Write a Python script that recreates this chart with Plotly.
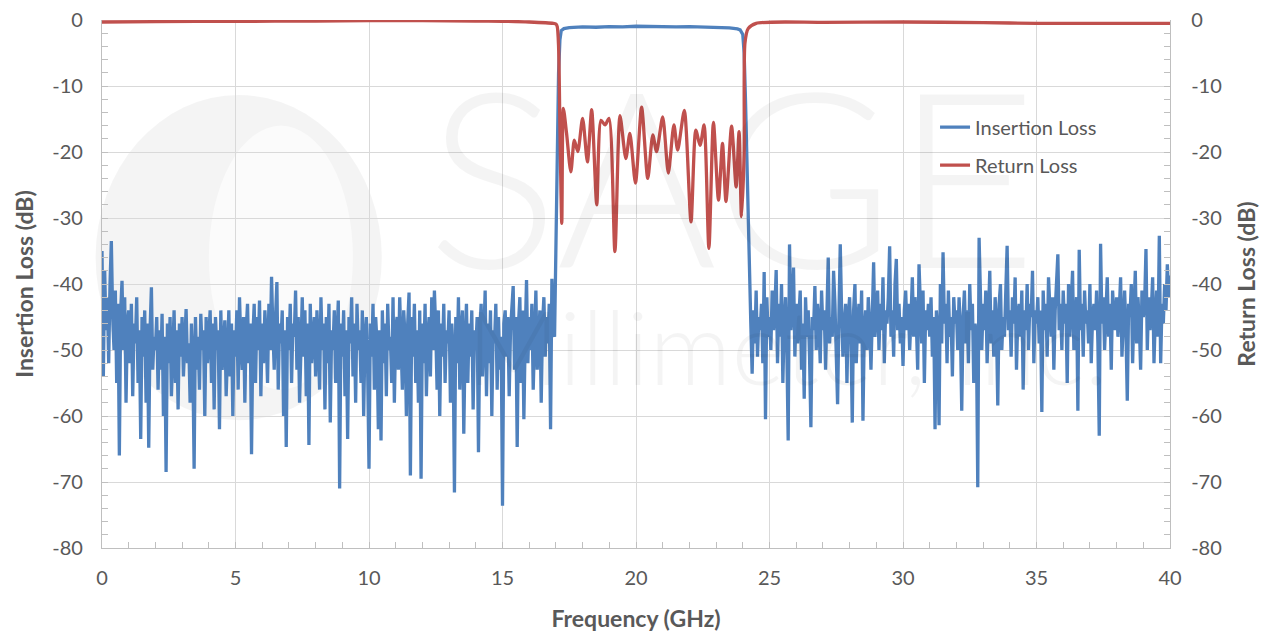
import numpy as np
import plotly.graph_objects as go

# ---------------- data ----------------
# Stop band below the passband: 0.00 .. 16.95 GHz, step 0.05 GHz (insertion loss, dB)
il_low = [
    -35, -54, -38, -47, -42, -52, -40, -33.5, -45, -50, -41, -55, -43, -66, -44, -39.5, -50, -42, -58, -46,
    -44, -52, -43, -57, -46, -49, -42, -55, -47, -63.5, -45, -51, -44, -58, -46, -64.8, -47, -40.5, -53, -48,
    -50, -45, -56, -47, -53, -44.5, -60, -48, -68.5, -46, -52, -45, -57, -49, -44, -55, -47, -59, -46, -51,
    -45, -54, -47, -43.8, -52, -49, -58, -46, -51, -68, -45, -53, -48, -56, -44.5, -50, -47, -60, -45, -52,
    -48, -44, -55, -46, -59, -45, -50, -47, -62, -44, -53, -48, -45.5, -57, -49, -44, -54, -46, -60, -47,
    -51, -44, -56, -42, -49, -53, -45, -58, -47, -43, -52, -46, -65.8, -48, -43, -55, -45, -50, -42.5, -57,
    -46, -52, -44, -48, -55, -43, -50, -38.9, -47, -53, -45, -39.7, -56, -46, -49, -44, -60, -47, -64.7, -45,
    -50, -43, -55, -46, -48, -41, -53, -45, -58, -47, -42, -51, -44, -57, -46, -64.4, -43, -52, -48, -45,
    -54, -44, -49, -56, -42, -50, -46, -59, -45, -52, -43, -61, -47, -50, -44, -55, -48, -42.5, -71, -46,
    -51, -44, -57, -47, -63.5, -45, -49, -42, -54, -46, -58, -43, -50, -47, -55, -44, -60, -48, -45, -53,
    -68, -46, -51, -43, -56, -45, -49, -62, -47, -63.7, -44, -52, -46, -57, -43, -50, -48, -55, -42, -58,
    -47, -45, -53, -42, -49, -56, -44, -48, -60, -46, -41.3, -69, -45, -51, -43, -55, -47, -58, -44, -69.5,
    -46, -52, -43, -57, -48, -45, -54, -42, -50, -41, -47, -56, -44, -60, -46, -51, -43, -55, -47, -49,
    -44, -58, -46, -50, -71.6, -45, -52, -42, -56, -47, -44, -62.7, -49, -43, -55, -46, -51, -44, -59, -47,
    -50, -45, -65.5, -47, -43, -54, -48, -41, -57, -46, -52, -44, -60, -47, -49, -43, -56, -45, -53, -48,
    -73.6, -46, -44, -51, -45, -57, -47, -43, -40.3, -53, -45, -64.7, -46, -42, -55, -44, -60.5, -48, -39.4, -52,
    -45, -50, -43, -56, -46, -41, -53, -47, -44, -58, -46, -42, -51, -45, -49, -43, -62, -39.2, -47, -48,
]

# Passband and skirts (insertion loss, dB)
il_pass_freq = [17.00, 17.05, 17.10, 17.15, 17.20, 17.30, 17.50, 18.00, 18.50, 19.00, 19.50, 20.00,
                20.50, 21.00, 21.50, 22.00, 22.50, 23.00, 23.50, 23.80, 23.90, 24.00, 24.05, 24.10,
                24.15, 24.20, 24.25]
il_pass = [-35, -20, -8, -3, -1.6, -1.3, -1.15, -1.05, -1.1, -1.0, -1.05, -0.95,
           -1.0, -0.95, -1.05, -1.0, -1.05, -1.1, -1.2, -1.35, -1.5, -2.2, -5, -12,
           -22, -32, -42]

# Stop band above the passband: 24.30 .. 40.00 GHz, step 0.05 GHz (insertion loss, dB)
il_high = [
    -46, -53.6, -44, -49, -41, -51, -45, -47, -43, -52, -38.2, -60.5, -42, -48,
    -45, -50, -41, -47, -44, -37.9, -52, -43, -48, -40, -55, -46, -42, -50, -63.7, -34, -47, -44, -37.5, -51,
    -43, -49, -45, -41, -53, -46, -57.4, -42, -48, -44, -51, -61.7, -45, -47, -40.3, -50, -43, -46, -52, -41,
    -47, -44, -53, -42, -36, -49, -45, -48, -38, -43, -50, -58.2, -45, -34, -44, -51, -46, -43, -55, -45,
    -42, -48, -61, -44, -40, -52, -46, -43, -49, -41, -60.7, -47, -44, -50, -42, -46, -53, -44, -36.7, -48,
    -45, -41, -50, -43, -47, -39, -52, -44, -46, -42, -34.3, -48, -44, -51, -40, -36.2, -47, -43, -49, -45,
    -52.4, -44, -41, -47, -43, -50, -45, -39, -48, -42, -46, -53, -37, -45, -49, -41, -55, -44, -47, -43,
    -48, -42, -51, -45, -62, -44, -47, -61.4, -40, -49, -35.2, -46, -43, -52, -41, -48, -45, -54, -42, -46,
    -44, -50, -42, -47, -59.2, -45, -41, -49, -44, -52, -40, -47, -43, -55, -46, -48, -70.8, -33, -44, -50,
    -43, -47, -41, -52, -45, -38, -49, -44, -51, -42, -46, -58.4, -43, -40, -50, -45, -48, -41, -34.2, -47,
    -44, -51, -42, -46, -39, -53, -45, -43, -48, -41, -56, -44, -47, -40, -50, -43, -45, -38, -52, -44,
    -46, -42, -49, -44, -59.4, -41, -47, -43, -51, -39, -45, -48, -42, -53, -44, -40, -35.5, -47, -43, -50,
    -41, -46, -43, -55, -40, -48, -44, -38, -50, -45, -42, -59.2, -34.8, -47, -43, -51, -41, -46, -44, -49,
    -40, -52, -45, -43, -47, -41, -49, -63, -33.9, -46, -42, -50, -44, -39, -48, -43, -53, -41, -45, -47,
    -42, -48, -44, -39, -51, -46, -41, -47, -57.7, -43, -45, -40, -52, -44, -38, -49, -42, -46, -53, -41,
    -45, -43, -34.7, -50, -42, -47, -44, -39, -52, -45, -41, -48, -32.7, -52, -43, -46, -40, -44, -37, -42,
    -38.7,
]

# Return loss (dB)
rl_freq = [0.0, 2.0, 5.0, 8.0, 10.0, 12.0, 14.0, 15.0, 16.0, 16.9, 17.0, 17.05, 17.10, 17.15,
           17.22, 17.28, 17.40, 17.56, 17.69, 17.82, 18.00, 18.18, 18.34, 18.53, 18.69, 18.84,
           18.99, 19.21, 19.40, 19.62, 19.77, 19.98, 20.21, 20.44, 20.63, 20.77, 21.00, 21.21,
           21.42, 21.56, 21.81, 22.06, 22.24, 22.40, 22.55, 22.73, 22.90, 23.09, 23.24, 23.37,
           23.58, 23.75, 23.86, 23.95, 24.05, 24.08, 24.20, 24.50, 27.0, 30.0, 33.0, 35.0, 38.0, 40.0]
rl = [-0.3, -0.25, -0.2, -0.15, -0.1, -0.1, -0.15, -0.2, -0.3, -0.5, -0.6, -1.0, -4, -16,
      -30.8, -13.4, -17.2, -23, -18.2, -19.95, -14.9, -21.5, -13.6, -28, -15.2, -15.9,
      -14.9, -35.1, -14.5, -21, -17.2, -24.7, -13.2, -24, -17.4, -19.95, -14.7, -23.2,
      -15.9, -19.7, -13.7, -30.6, -16.7, -19, -15.9, -34.6, -15.5, -27.3, -18.7, -27.5,
      -16.1, -25.3, -16.9, -29.8, -20.2, -3.5, -1.3, -0.5, -0.35, -0.3, -0.4, -0.5, -0.5, -0.5]

x_ticks = [0, 5, 10, 15, 20, 25, 30, 35, 40]
y_ticks = [0, -10, -20, -30, -40, -50, -60, -70, -80]

# ---------------- build ----------------
f_low = np.round(np.arange(len(il_low)) * 0.05, 2)
f_high = np.round(24.30 + np.arange(len(il_high)) * 0.05, 2)
il_freq = list(f_low) + il_pass_freq + list(f_high)
il_all = il_low + il_pass + il_high

BLUE = "#4F81BD"
RED = "#C0504D"
TXT = "#595959"
FONT = "Lato"

fig = go.Figure()
fig.add_trace(go.Scatter(x=il_freq, y=il_all, mode="lines", name="Insertion Loss",
                         legendgroup="il", line=dict(color=BLUE, width=3.3)))
fig.add_trace(go.Scatter(x=rl_freq, y=rl, mode="lines", name="Return Loss", yaxis="y2",
                         legendgroup="rl",
                         line=dict(color=RED, width=3.3, shape="spline", smoothing=0.7)))

# watermark (faint SAGE logo/text)
WM = "rgba(0,0,0,0.045)"
fig.add_shape(type="circle", xref="paper", yref="paper", x0=-0.006, x1=0.262, y0=0.242, y1=0.858,
              fillcolor=WM, line=dict(width=0), layer="below")
fig.add_shape(type="circle", xref="paper", yref="paper", x0=0.10, x1=0.235, y0=0.30, y1=0.80,
              fillcolor="rgba(255,255,255,0.6)", line=dict(width=0), layer="below")
fig.add_annotation(text="SAGE", xref="paper", yref="paper", x=0.59, y=0.712, showarrow=False,
                   yanchor="middle", font=dict(family=FONT, size=246, color=WM, weight=300))
fig.add_annotation(text="Millimeter, Inc.", xref="paper", yref="paper", x=0.642, y=0.383, showarrow=False,
                   yanchor="middle", font=dict(family=FONT, size=102, color=WM, weight=300))

axis_common = dict(
    showline=True, linecolor="#bfbfbf", linewidth=1.3,
    ticks="inside", ticklen=6, tickcolor="#bfbfbf",
    tickfont=dict(family=FONT, size=20, color=TXT),
    zeroline=False, automargin=False, ticklabeloverflow="allow",
)
TITLE_FONT = dict(family=FONT, size=23, color=TXT)

# the page body adds an 8 px offset, margins compensate for it
fig.update_layout(
    width=1270, height=633,
    margin=dict(l=94, r=108, t=12, b=93),
    paper_bgcolor="white", plot_bgcolor="white",
    font=dict(family=FONT, color=TXT),
    xaxis=dict(range=[0, 40], tickvals=x_ticks, ticktext=[str(v) for v in x_ticks],
               showgrid=True, gridcolor="#d9d9d9", gridwidth=1.3,
               minor=dict(dtick=1, ticks="inside", ticklen=6, tickcolor="#bfbfbf", showgrid=False),
               title=dict(text="<b>Frequency (GHz)</b>", font=TITLE_FONT, standoff=22),
               ticklabelstandoff=12,
               **axis_common),
    yaxis=dict(range=[-80, 0], tickvals=y_ticks, ticktext=[str(v) for v in y_ticks],
               showgrid=True, gridcolor="#d9d9d9", gridwidth=1.3,
               minor=dict(dtick=2, ticks="inside", ticklen=6, tickcolor="#bfbfbf", showgrid=False),
               title=dict(text="<b>Insertion Loss (dB)</b>", font=TITLE_FONT, standoff=12),
               ticklabelstandoff=14,
               **axis_common),
    yaxis2=dict(range=[-80, 0], tickvals=y_ticks, ticktext=[str(v) for v in y_ticks],
                overlaying="y", side="right", showgrid=False,
                minor=dict(dtick=2, ticks="inside", ticklen=6, tickcolor="#bfbfbf", showgrid=False),
                title=dict(text="<b>Return Loss (dB)</b>", font=TITLE_FONT, standoff=18),
                ticklabelstandoff=16,
                **axis_common),
    legend=dict(x=0.78, y=0.834, xanchor="left", yanchor="top", bgcolor="rgba(0,0,0,0)",
                font=dict(family=FONT, size=20, color=TXT), tracegroupgap=9),
    showlegend=True,
)

fig.write_html("out.html")
